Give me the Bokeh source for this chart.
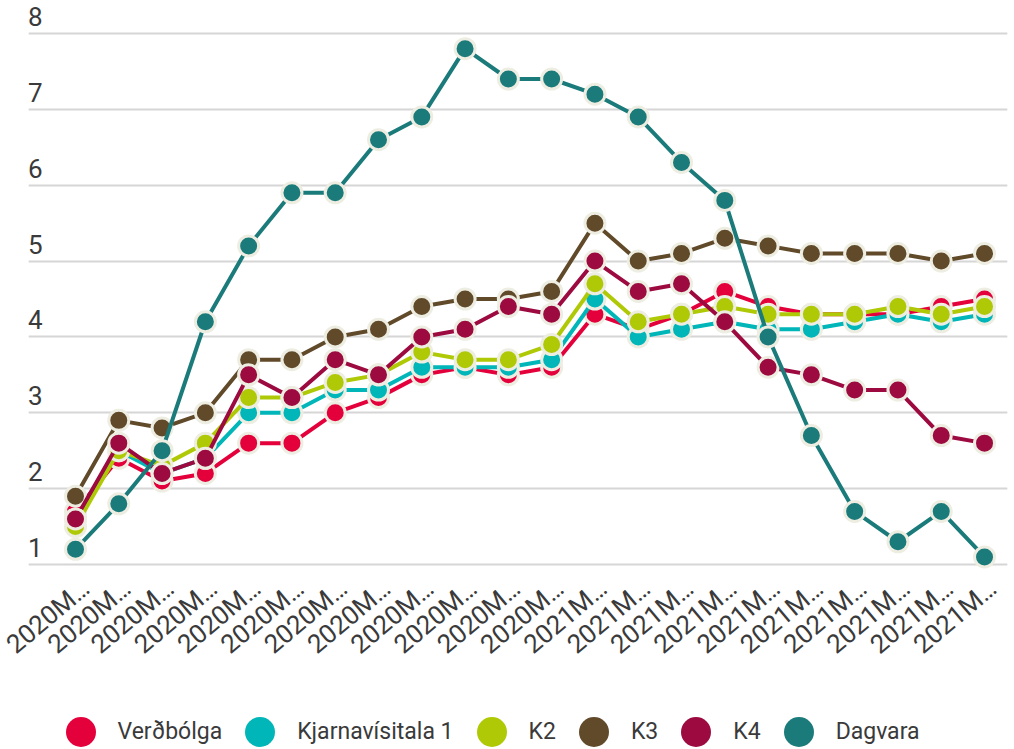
import math
from bokeh.plotting import figure
from bokeh.layouts import column
from bokeh.models import (Range1d, LinearAxis, FixedTicker, Legend, LegendItem,
                          ColumnDataSource, Grid, AllLabels)
from bokeh.embed import file_html
from bokeh.resources import INLINE

# ---- data -------------------------------------------------------------
categories = ["2020M01", "2020M02", "2020M03", "2020M04", "2020M05", "2020M06",
              "2020M07", "2020M08", "2020M09", "2020M10", "2020M11", "2020M12",
              "2021M01", "2021M02", "2021M03", "2021M04", "2021M05", "2021M06",
              "2021M07", "2021M08", "2021M09", "2021M10"]
tick_labels = [c[:5] + "…" for c in categories]
y_ticks = [1, 2, 3, 4, 5, 6, 7, 8]

series_names = ["Verðbólga", "Kjarnavísitala 1", "K2", "K3", "K4", "Dagvara"]
verdbolga = [1.7, 2.4, 2.1, 2.2, 2.6, 2.6, 3.0, 3.2, 3.5, 3.6, 3.5, 3.6,
             4.3, 4.1, 4.3, 4.6, 4.4, 4.3, 4.3, 4.3, 4.4, 4.5]
kjarna1 = [1.6, 2.5, 2.2, 2.4, 3.0, 3.0, 3.3, 3.3, 3.6, 3.6, 3.6, 3.7,
           4.5, 4.0, 4.1, 4.2, 4.1, 4.1, 4.2, 4.3, 4.2, 4.3]
k2 = [1.5, 2.5, 2.3, 2.6, 3.2, 3.2, 3.4, 3.5, 3.8, 3.7, 3.7, 3.9,
      4.7, 4.2, 4.3, 4.4, 4.3, 4.3, 4.3, 4.4, 4.3, 4.4]
k3 = [1.9, 2.9, 2.8, 3.0, 3.7, 3.7, 4.0, 4.1, 4.4, 4.5, 4.5, 4.6,
      5.5, 5.0, 5.1, 5.3, 5.2, 5.1, 5.1, 5.1, 5.0, 5.1]
k4 = [1.6, 2.6, 2.2, 2.4, 3.5, 3.2, 3.7, 3.5, 4.0, 4.1, 4.4, 4.3,
      5.0, 4.6, 4.7, 4.2, 3.6, 3.5, 3.3, 3.3, 2.7, 2.6]
dagvara = [1.2, 1.8, 2.5, 4.2, 5.2, 5.9, 5.9, 6.6, 6.9, 7.8, 7.4, 7.4,
           7.2, 6.9, 6.3, 5.8, 4.0, 2.7, 1.7, 1.3, 1.7, 1.1]

colors = ["#e4003b", "#00b6b8", "#afc906", "#614a2a", "#9c0a40", "#1b7b7b"]
series_values = [verdbolga, kjarna1, k2, k3, k4, dagvara]

# ---- styling ----------------------------------------------------------
FONT = "Roboto"
TXT = "#3a3a3a"
OUTLINE = "#eeede2"

x_idx = list(range(len(categories)))
src = ColumnDataSource(dict(x=x_idx, **{f"s{i}": v for i, v in enumerate(series_values)}))

Y0, Y1 = 0.7891, 8.2768
X0, X1 = -1.0858, 21.531
p = figure(width=1014, height=690, output_backend="svg", toolbar_location=None,
           x_range=Range1d(X0, X1), y_range=Range1d(Y0, Y1),
           y_axis_location=None,
           min_border_left=28, min_border_right=7, min_border_top=12,
           min_border_bottom=110)
p.outline_line_color = None
p.background_fill_color = "white"
p.border_fill_color = "white"

# horizontal grid
p.xgrid.visible = False
p.add_layout(Grid(dimension=1, ticker=FixedTicker(ticks=y_ticks),
                  grid_line_color="#d6d6d6", grid_line_width=2))

# y labels sit above their grid lines: use a shifted label range
shift = 17 / 75.86
p.extra_y_ranges = {"lbl": Range1d(Y0 - shift, Y1 - shift)}
yax = LinearAxis(y_range_name="lbl", ticker=FixedTicker(ticks=y_ticks),
                 axis_line_color=None, major_tick_line_color=None,
                 minor_tick_line_color=None, major_tick_out=0, major_tick_in=0,
                 major_label_standoff=-14,
                 major_label_text_font=FONT, major_label_text_font_size="26px",
                 major_label_text_color=TXT)
p.add_layout(yax, "left")

# x axis (labels nudged right of their tick, as in the original)
xshift = 8 / 43.29
p.extra_x_ranges = {"lbl": Range1d(X0 - xshift, X1 - xshift)}
xa = p.xaxis[0]
xa.x_range_name = "lbl"
xa.ticker = FixedTicker(ticks=x_idx)
xa.major_label_overrides = {i: lbl for i, lbl in enumerate(tick_labels)}
xa.major_label_policy = AllLabels()
xa.major_label_orientation = 0.70
xa.axis_line_color = None
xa.major_tick_line_color = None
xa.minor_tick_line_color = None
xa.major_tick_out = 0
xa.major_tick_in = 0
xa.major_label_standoff = 4
xa.major_label_text_font = FONT
xa.major_label_text_font_size = "26px"
xa.major_label_text_color = TXT

# series
for i, col in enumerate(colors):
    p.line("x", f"s{i}", source=src, line_color=col, line_width=4)
    p.scatter("x", f"s{i}", source=src, size=20, fill_color=col,
              line_color=OUTLINE, line_width=3)

# ---- legend strip (separate figure below the chart) ----------------------
lf = figure(width=1014, height=59, output_backend="svg", toolbar_location=None,
            x_range=Range1d(X0, X1), y_range=Range1d(Y0, Y1),
            x_axis_location=None, y_axis_location=None,
            min_border_left=0, min_border_right=0, min_border_top=0,
            min_border_bottom=0)
lf.outline_line_color = None
lf.xgrid.visible = False
lf.ygrid.visible = False
legend_items = []
for i, (name, col) in enumerate(zip(series_names, colors)):
    lr = lf.scatter("x", f"s{i}", source=src, size=30, fill_color=col,
                    line_color=None, visible=False)
    legend_items.append(LegendItem(label=name, renderers=[lr]))

legend = Legend(items=legend_items, orientation="horizontal",
                location=(14.5, -19.5), glyph_width=75, glyph_height=75,
                label_standoff=-5, spacing=-10, padding=0, margin=0,
                border_line_color=None, background_fill_alpha=0,
                label_text_font=FONT, label_text_font_size="23px",
                label_text_color=TXT, click_policy="none")
lf.add_layout(legend)

layout = column(p, lf, spacing=0)
open("out.html", "w").write(file_html(layout, INLINE))
